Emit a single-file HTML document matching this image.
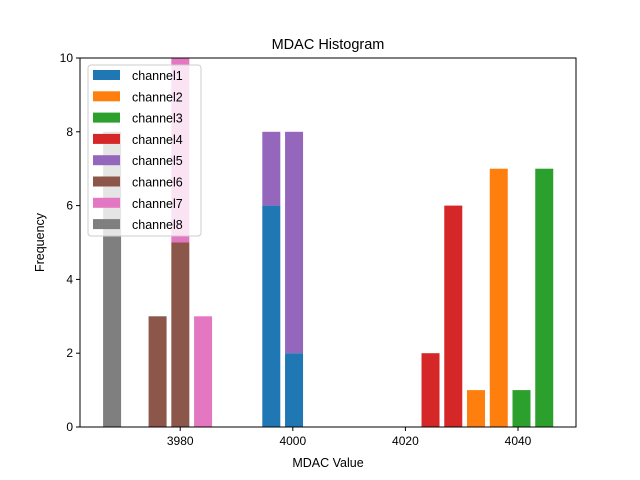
<!DOCTYPE html>
<html><head><meta charset="utf-8"><style>
body{margin:0;background:#fff}
svg{display:block;font-family:"Liberation Sans","DejaVu Sans",sans-serif}
</style></head><body>
<svg id="chart" width="640" height="480">
<rect width="640" height="480" fill="#fff"/>
<text x="328" y="49" font-size="14.5" text-anchor="middle">MDAC Histogram</text>
<g id="bars"></g>
<g id="axes"></g>
</svg>
<script>
const binStart = 3967.9;
const binWidth = 4.04;
const binIndex = [0, 2, 3, 4, 7, 8, 14, 15, 16, 17, 18, 19];
const channel1 = [0, 0, 0, 0, 6, 2, 0, 0, 0, 0, 0, 0];
const channel2 = [0, 0, 0, 0, 0, 0, 0, 0, 1, 7, 0, 0];
const channel3 = [0, 0, 0, 0, 0, 0, 0, 0, 0, 0, 1, 7];
const channel4 = [0, 0, 0, 0, 0, 0, 2, 6, 0, 0, 0, 0];
const channel5 = [0, 0, 0, 0, 2, 6, 0, 0, 0, 0, 0, 0];
const channel6 = [0, 3, 5, 0, 0, 0, 0, 0, 0, 0, 0, 0];
const channel7 = [0, 0, 6, 3, 0, 0, 0, 0, 0, 0, 0, 0];
const channel8 = [8, 0, 0, 0, 0, 0, 0, 0, 0, 0, 0, 0];
const seriesNames = ["channel1","channel2","channel3","channel4","channel5","channel6","channel7","channel8"];
const xTicks = [3980, 4000, 4020, 4040];
const yTicks = [0, 2, 4, 6, 8, 10];

const series = [channel1,channel2,channel3,channel4,channel5,channel6,channel7,channel8];
const colors = ["#1f77b4","#ff7f0e","#2ca02c","#d62728","#9467bd","#8c564b","#e377c2","#7f7f7f"];
const L=80,R=576,T=58,B=427;
const xmin=3962.2,xmax=4050.3,ymin=0,ymax=10;
const sx=v=>L+(v-xmin)/(xmax-xmin)*(R-L);
const sy=v=>B-(v-ymin)/(ymax-ymin)*(B-T);
const NS="http://www.w3.org/2000/svg";
function mk(tag,attrs,parent){const e=document.createElementNS(NS,tag);for(const k in attrs)e.setAttribute(k,attrs[k]);parent.appendChild(e);return e;}
const svg=document.getElementById('chart');
const clip=mk('clipPath',{id:'plotclip'},svg);
mk('rect',{x:L,y:T,width:R-L,height:B-T},clip);
const bars=document.getElementById('bars');
bars.setAttribute('clip-path','url(#plotclip)');
const barW=18;
binIndex.forEach((k,i)=>{
  const c=binStart+k*binWidth;
  let base=0;
  series.forEach((s,j)=>{
    const v=s[i];
    if(v>0){
      const r=mk('rect',{x:sx(c)-barW/2,y:sy(base+v),width:barW,height:sy(base)-sy(base+v),fill:colors[j]},bars);
      
      
    }
    base+=v;
  });
});
const ax=document.getElementById('axes');
const frame=mk('rect',{x:L,y:T,width:R-L,height:B-T,fill:'none',stroke:'#000','stroke-width':1},ax);


xTicks.forEach(t=>{
  const x=sx(t);
  mk('line',{x1:x,x2:x,y1:B,y2:B+4,stroke:'#000'},ax);
  const tx=mk('text',{x:x,y:B+18,'font-size':12,'text-anchor':'middle'},ax);
  tx.textContent=t;
  
  
});
yTicks.forEach(t=>{
  const y=sy(t);
  mk('line',{x1:L-4,x2:L,y1:y,y2:y,stroke:'#000'},ax);
  const tx=mk('text',{x:L-7,y:y+4,'font-size':12,'text-anchor':'end'},ax);
  tx.textContent=t;
  
  
});
const xl=mk('text',{x:(L+R)/2,y:467,'font-size':12.5,'text-anchor':'middle'},ax);
xl.textContent='MDAC Value';


const yl=mk('text',{x:0,y:0,'font-size':12.5,'text-anchor':'middle',transform:'translate(44,'+((T+B)/2)+') rotate(-90)'},ax);
yl.textContent='Frequency';


const lg=mk('g',{},svg);


mk('rect',{x:88,y:65,width:113,height:171,rx:3,fill:'#fff','fill-opacity':0.8,stroke:'#ccc'},lg);
seriesNames.forEach((n,j)=>{
  const y=75+j*21.3;
  const p=mk('rect',{x:93,y:y-5,width:27,height:10,fill:colors[j]},lg);
  
  
  const t=mk('text',{x:132,y:y+5,'font-size':12.5},lg);
  t.textContent=n;
  
  
});
</script>
</body></html>
